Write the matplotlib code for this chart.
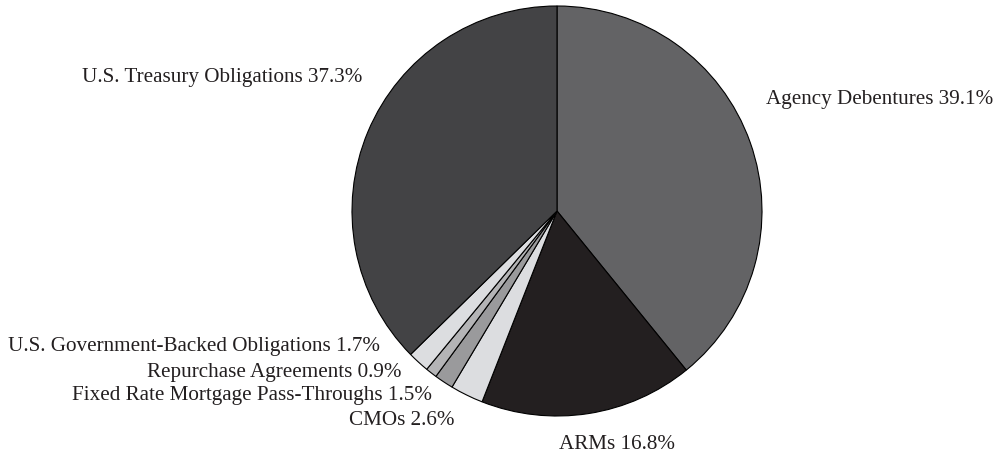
import matplotlib
matplotlib.use('Agg')
import matplotlib.pyplot as plt

labels = ['Agency Debentures', 'ARMs', 'CMOs', 'Fixed Rate Mortgage Pass-Throughs',
          'Repurchase Agreements', 'U.S. Government-Backed Obligations',
          'U.S. Treasury Obligations']
shares = [39.1, 16.8, 2.6, 1.5, 0.9, 1.7, 37.3]
colors = ['#636365', '#231f20', '#dcdde0', '#9a9a9c', '#b4b4b6', '#dcdde0', '#434345']

# label anchor points (pie radius units) and alignment
label_pos = [(1.02, 0.546, 'left'), (0.012, -1.14, 'left'), (-0.498, -1.024, 'right'),
             (-0.61, -0.90, 'right'), (-0.76, -0.79, 'right'), (-0.863, -0.663, 'right'),
             (-0.951, 0.651, 'right')]

plt.rcParams['font.family'] = ['Liberation Serif', 'DejaVu Serif']

fig = plt.figure(figsize=(9.99, 4.61), dpi=100)
ax = fig.add_axes([352 / 999, 45 / 461, 410 / 999, 410 / 461])
ax.pie(shares, colors=colors, startangle=90, counterclock=False, radius=1,
       wedgeprops=dict(edgecolor='black', linewidth=0.8))
ax.set_xlim(-1, 1)
ax.set_ylim(-1, 1)
ax.set_aspect('equal')

for lab, val, (x, y, ha) in zip(labels, shares, label_pos):
    ax.text(x, y, f'{lab} {val}%', ha=ha, va='center', fontsize=15.2,
            color='#231f20', clip_on=False)

fig.savefig('out.png', dpi=100)
